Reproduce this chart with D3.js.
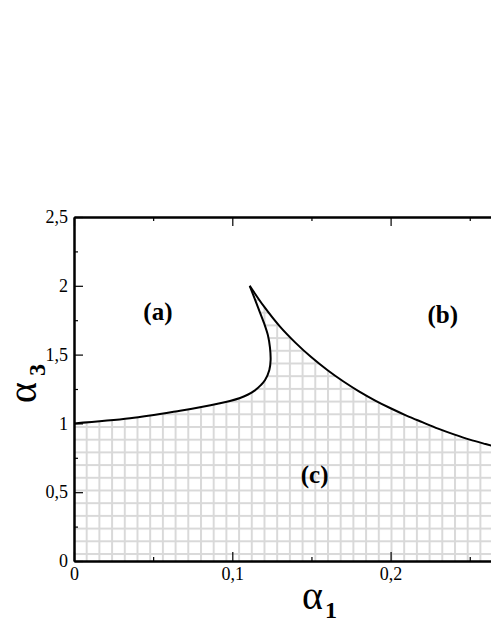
<!DOCTYPE html>
<html><head><meta charset="utf-8">
<script src="https://cdn.jsdelivr.net/npm/d3@7"></script>
<style>
html,body{margin:0;padding:0;background:#fff;}
svg{display:block;}
</style></head>
<body>
<svg id="chart" width="491" height="635"></svg>
<script>
// ---- data ----
const xMajorTicks = [0, 0.1, 0.2];
const xMinorTicks = [0.05, 0.15, 0.25];
const yMajorTicks = [0, 0.5, 1, 1.5, 2, 2.5];
const yMinorTicks = [0.25, 0.75, 1.25, 1.75, 2.25];
// left branch of the boundary, from α1=0 up to the cusp
const leftBranchA1 = [0, 0.0354, 0.067, 0.0796, 0.0922, 0.0985, 0.1049, 0.110, 0.1143, 0.118, 0.1207, 0.1234, 0.1242, 0.1238, 0.1225, 0.1200, 0.1160, 0.111];
const leftBranchA3 = [1.0, 1.037, 1.092, 1.117, 1.146, 1.163, 1.185, 1.210, 1.240, 1.278, 1.315, 1.388, 1.46, 1.55, 1.64, 1.73, 1.85, 2.0];
// right branch of the boundary, from the cusp to the right edge
const rightBranchA1 = [0.111, 0.12, 0.13, 0.14, 0.15, 0.16, 0.17, 0.18, 0.19, 0.2, 0.21, 0.22, 0.23, 0.24, 0.25, 0.26, 0.27];
const rightBranchA3 = [2.0, 1.85, 1.705, 1.585, 1.48, 1.388, 1.306, 1.233, 1.168, 1.11, 1.057, 1.009, 0.962, 0.92, 0.882, 0.85, 0.82];
const regionLabels = ["(a)", "(b)", "(c)"];
const regionA1 = [0.053, 0.233, 0.152];
const regionA3 = [1.75, 1.73, 0.57];

const SERIF = '"Liberation Serif", "Times New Roman", serif';
const svg = d3.select("#chart");
const x = d3.scaleLinear().domain([0, 0.3]).range([74, 74 + 0.3 * 1583]);
const y = d3.scaleLinear().domain([0, 2.5]).range([561, 217]);

// hatch pattern
const defs = svg.append("defs");
const step = 12.7;
const pat = defs.append("pattern").attr("id", "grid")
  .attr("patternUnits", "userSpaceOnUse")
  .attr("width", step).attr("height", step)
  .attr("x", 74 - 1).attr("y", 561 - 7 - 1);
pat.append("rect").attr("x", 0).attr("y", 0).attr("width", 2).attr("height", step).attr("fill", "#d9d9d9");
pat.append("rect").attr("x", 0).attr("y", 0).attr("width", step).attr("height", 2).attr("fill", "#d9d9d9");

const left = leftBranchA1.map((d, i) => [d, leftBranchA3[i]]);
const right = rightBranchA1.map((d, i) => [d, rightBranchA3[i]]);

const lineGen = d3.line().x(d => x(d[0])).y(d => y(d[1])).curve(d3.curveCatmullRom.alpha(0.5));

// filled region (c): left branch, then right branch, then down to the axis
const last = right[right.length - 1];
const leftD = lineGen(left);
const rightD = lineGen(right);
const areaD = leftD + rightD.replace(/^M/, "L") +
  "L" + x(last[0]) + "," + y(0) + "L" + x(0) + "," + y(0) + "Z";
svg.append("clipPath").attr("id", "plotclip").append("rect")
  .attr("x", x(0)).attr("y", y(2.5)).attr("width", x(0.3) - x(0)).attr("height", y(0) - y(2.5));
const g = svg.append("g").attr("clip-path", "url(#plotclip)");
g.append("path").attr("d", areaD).attr("fill", "url(#grid)").attr("stroke", "none");

// boundary lines
g.append("path").attr("d", leftD).attr("fill", "none").attr("stroke", "#000").attr("stroke-width", 2);
g.append("path").attr("d", rightD).attr("fill", "none").attr("stroke", "#000").attr("stroke-width", 2);

// axes
const fmt = d => d === 0 ? "0" : String(d).replace(".", ",");
function styleAxis(sel) {
  sel.attr("font-family", null).attr("font-size", null);
  sel.selectAll(".domain").attr("stroke", "#000").attr("stroke-width", 2);
  sel.selectAll(".tick line").attr("stroke", "#000").attr("stroke-width", 1.2);
  sel.selectAll("text").style("font-family", SERIF).style("font-size", "18px").attr("fill", "#000");
}
const gb = svg.append("g").attr("transform", `translate(0,${y(0)})`)
  .call(d3.axisBottom(x).tickValues(xMajorTicks).tickFormat(fmt).tickSizeInner(-9).tickSizeOuter(0).tickPadding(6));
styleAxis(gb);
const gbm = svg.append("g").attr("transform", `translate(0,${y(0)})`)
  .call(d3.axisBottom(x).tickValues(xMinorTicks).tickFormat("").tickSizeInner(-4).tickSizeOuter(0));
styleAxis(gbm);
const gt = svg.append("g").attr("transform", `translate(0,${y(2.5)})`)
  .call(d3.axisTop(x).tickValues(xMajorTicks).tickFormat("").tickSizeInner(-9).tickSizeOuter(0));
styleAxis(gt);
const gtm = svg.append("g").attr("transform", `translate(0,${y(2.5)})`)
  .call(d3.axisTop(x).tickValues(xMinorTicks).tickFormat("").tickSizeInner(-4).tickSizeOuter(0));
styleAxis(gtm);
const gl = svg.append("g").attr("transform", `translate(${x(0)},0)`)
  .call(d3.axisLeft(y).tickValues(yMajorTicks).tickFormat(fmt).tickSizeInner(-9).tickSizeOuter(0).tickPadding(6));
styleAxis(gl);
const glm = svg.append("g").attr("transform", `translate(${x(0)},0)`)
  .call(d3.axisLeft(y).tickValues(yMinorTicks).tickFormat("").tickSizeInner(-4).tickSizeOuter(0));
styleAxis(glm);

// region labels
svg.selectAll("text.region").data(regionLabels).enter().append("text")
  .attr("class", "region")
  .attr("x", (d, i) => x(regionA1[i])).attr("y", (d, i) => y(regionA3[i]))
  .attr("text-anchor", "middle")
  .style("font-family", SERIF).style("font-weight", "bold").style("font-size", "25px")
  .text(d => d);

// axis titles
const xt = svg.append("text").attr("x", 302).attr("y", 609)
  .style("font-family", SERIF).style("font-size", "40px");
xt.append("tspan").text("α");
xt.append("tspan").attr("dx", 2).attr("dy", 9).style("font-size", "24px").style("font-weight", "bold").text("1");

const yt = svg.append("text").attr("transform", "translate(36,403) rotate(-90)")
  .style("font-family", SERIF).style("font-size", "40px");
yt.append("tspan").text("α");
yt.append("tspan").attr("dx", 6).attr("dy", 9).style("font-size", "24px").style("font-weight", "bold").text("3");
</script>
</body></html>
